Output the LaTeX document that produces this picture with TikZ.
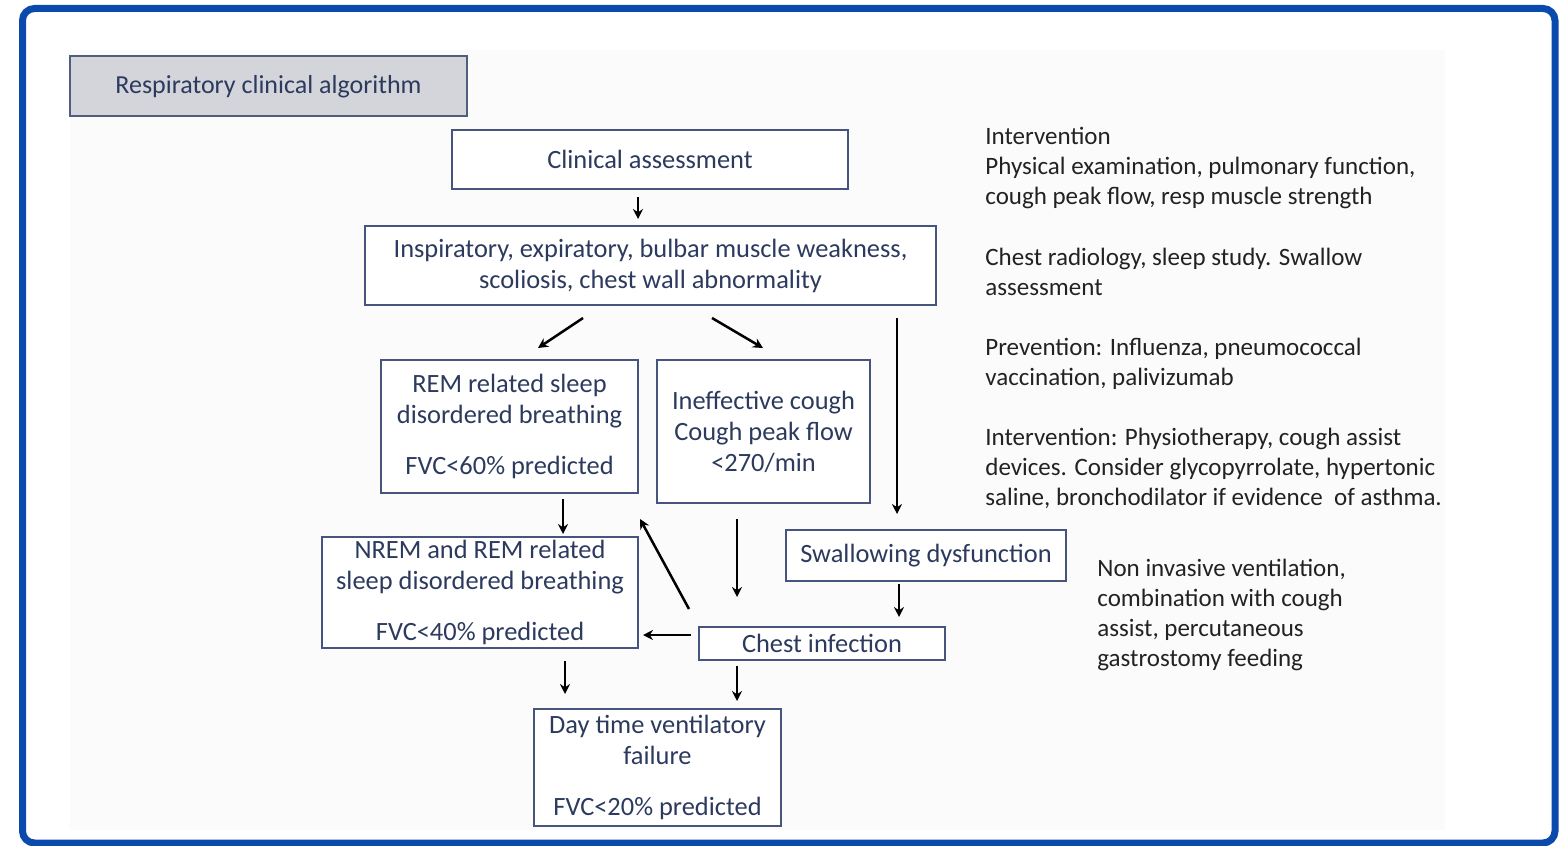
\documentclass[tikz,border=0pt]{standalone}
\usepackage{fontspec}
\setmainfont{Carlito}
\usetikzlibrary{arrows.meta}
\definecolor{frameblue}{HTML}{0A4AAD}
\definecolor{boxline}{HTML}{46547E}
\definecolor{boxtext}{HTML}{2C3A5E}
\definecolor{titlefill}{HTML}{D4D5DA}
\definecolor{bgpanel}{HTML}{FBFBFB}
\definecolor{sidetext}{HTML}{222222}
\tikzset{
  box/.style={draw=boxline, line width=1pt, fill=white, inner sep=0pt, align=center,
    text=boxtext, font=\fontsize{13.2}{15.5}\selectfont},
  side/.style={anchor=north west, inner sep=0pt, align=left, text=sidetext,
    font=\fontsize{12.5}{15}\selectfont},
  arr/.style={draw=black, line width=1.25pt, -{Stealth[length=5pt,width=5pt]}}
}
\begin{document}
\begin{tikzpicture}[x=0.5pt,y=-0.5pt]
\useasboundingbox (0,0) rectangle (1561,845);
\fill[white] (0,0) rectangle (1561,845);
\fill[bgpanel] (70,50) rectangle (1445,830);
\draw[frameblue, line width=3.5pt, rounded corners=6pt] (22.5,8.5) rectangle (1555,843);

\node[box, fill=titlefill, draw=boxline!80!gray, minimum width=198.5pt, minimum height=30pt, font=\fontsize{13}{15.5}\selectfont] (title) at (268.5,86.5) {Respiratory clinical algorithm};

\node[box, minimum width=198pt, minimum height=29.5pt] (clin) at (650,159.5) {Clinical assessment};
\node[box, minimum width=285.5pt, minimum height=39.5pt] (insp) at (650.5,265.5) {Inspiratory, expiratory, bulbar muscle weakness,\\scoliosis, chest wall abnormality};
\node[box, minimum width=128.5pt, minimum height=66.5pt] (rem) at (509.5,426.5) {REM related sleep\\disordered breathing\\[10pt]FVC<60\% predicted};
\node[box, minimum width=106.5pt, minimum height=71.5pt] (cough) at (763.5,431.5) {Ineffective cough\\Cough peak flow\\<270/min};
\node[box, minimum width=140pt, minimum height=25.5pt] (swal) at (926,555.5) {Swallowing dysfunction};
\node[box, minimum width=158pt, minimum height=55.5pt] (nrem) at (480,592.5) {NREM and REM related\\sleep disordered breathing\\[10pt]FVC<40\% predicted};
\node[box, minimum width=123pt, minimum height=16.5pt] (chest) at (822,643.5) {Chest infection};
\node[box, minimum width=123.5pt, minimum height=58.5pt] (day) at (657.5,767.5) {Day time ventilatory\\failure\\[10pt]FVC<20\% predicted};

\node[side] (s1) at (985,127) {Intervention\\Physical examination, pulmonary function,\\cough peak flow, resp muscle strength};
\node[side] (s2) at (985,248) {Chest radiology, sleep study. Swallow\\assessment};
\node[side] (s3) at (985,338) {Prevention: Influenza, pneumococcal\\vaccination, palivizumab};
\node[side] (s4) at (985,428) {Intervention: Physiotherapy, cough assist\\devices. Consider glycopyrrolate, hypertonic\\saline, bronchodilator if evidence\ \ of asthma.};
\node[side] (s5) at (1097,559) {Non invasive ventilation,\\combination with cough\\assist, percutaneous\\gastrostomy feeding};

\draw[arr] ([shift={(-12,7)}]clin.south) -- ([shift={(-12.5,-6)}]insp.north);
\draw[arr] ([shift={(-67.5,12)}]insp.south) -- ([shift={(28.5,-11)}]rem.north);
\draw[arr] ([shift={(61.5,12)}]insp.south) -- ([shift={(-0.5,-11)}]cough.north);
\draw[arr] ([shift={(246.5,12)}]insp.south) -- ([shift={(-29,-15)}]swal.north);
\draw[arr] ([shift={(53.5,5)}]rem.south) -- ([shift={(83,-2)}]nrem.north);
\draw[arr] ([shift={(-133,-17)}]chest.north) -- ([shift={(130.5,25)}]rem.south);
\draw[arr] ([shift={(-26.5,15)}]cough.south) -- ([shift={(-85,-29)}]chest.north);
\draw[arr] ([shift={(-27,2)}]swal.south) -- ([shift={(77,-9)}]chest.north);
\draw[arr] ([shift={(-7,-8.5)}]chest.west) -- ([shift={(4,42.5)}]nrem.east);
\draw[arr] ([shift={(85,12)}]nrem.south) -- ([shift={(-92.5,-14)}]day.north);
\draw[arr] ([shift={(-85,5)}]chest.south) -- ([shift={(79.5,-7)}]day.north);
\end{tikzpicture}
\end{document}
